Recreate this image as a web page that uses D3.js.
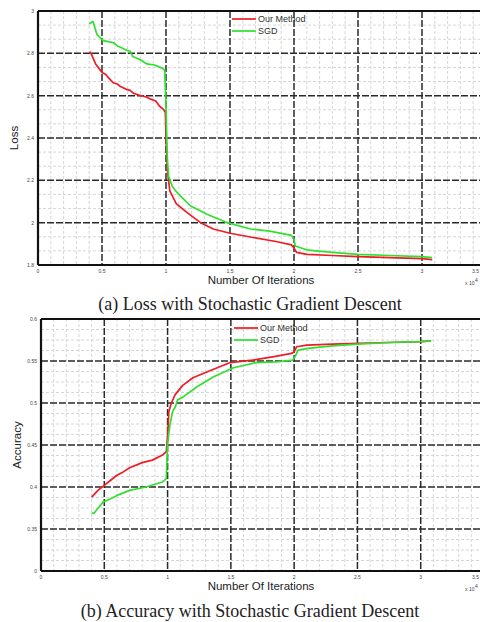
<!DOCTYPE html>
<html>
<head>
<meta charset="utf-8">
<script src="https://cdnjs.cloudflare.com/ajax/libs/d3/7.8.5/d3.min.js"></script>
<style>
  body { margin: 0; background: #fff; }
  svg { display: block; }
  .tick-label { font-family: "Liberation Sans", Arial, sans-serif; font-size: 5px; fill: #444; }
  .axis-label { font-family: "Liberation Sans", Arial, sans-serif; font-size: 11.5px; fill: #222; }
  .legend-text { font-family: "Liberation Sans", Arial, sans-serif; font-size: 9px; fill: #333; }
  .caption { font-family: "Liberation Serif", "Times New Roman", serif; font-size: 18px; fill: #222; }
</style>
</head>
<body>
<svg id="chart" width="480" height="622"></svg>
<script>
// x values are in units of 10^4 iterations
var xTicks = [0, 0.5, 1, 1.5, 2, 2.5, 3, 3.5];
var xTickLabels = ["0", "0.5", "1", "1.5", "2", "2.5", "3", "3.5"];

var lossTicks = [1.8, 2, 2.2, 2.4, 2.6, 2.8, 3];
var lossTickLabels = ["1.8", "2", "2.2", "2.4", "2.6", "2.8", "3"];
var accTicks = [0.3, 0.35, 0.4, 0.45, 0.5, 0.55, 0.6];
var accTickLabels = ["0", "0.35", "0.4", "0.45", "0.5", "0.55", "0.6"];

var seriesNames = ["Our Method", "SGD"];
var seriesColors = ["#ee1c25", "#2fe02f"];

// (a) loss
var lossOursX = [0.40, 0.41, 0.45, 0.50, 0.53, 0.55, 0.59, 0.62, 0.64, 0.69, 0.72, 0.75, 0.80, 0.84, 0.875, 0.92, 0.95, 0.98, 0.995, 1.0, 1.01, 1.03, 1.08, 1.16, 1.27, 1.37, 1.50, 1.68, 1.87, 1.98, 2.0, 2.02, 2.1, 2.3, 2.5, 2.75, 3.0, 3.08];
var lossOursY = [2.80, 2.806, 2.75, 2.71, 2.70, 2.685, 2.66, 2.655, 2.645, 2.63, 2.625, 2.61, 2.60, 2.595, 2.585, 2.575, 2.55, 2.535, 2.52, 2.40, 2.25, 2.15, 2.09, 2.05, 2.00, 1.97, 1.95, 1.93, 1.91, 1.895, 1.88, 1.86, 1.85, 1.845, 1.84, 1.835, 1.83, 1.825];
var lossSgdX = [0.40, 0.43, 0.46, 0.51, 0.55, 0.59, 0.62, 0.64, 0.69, 0.72, 0.74, 0.80, 0.85, 0.91, 0.97, 0.99, 1.0, 1.01, 1.02, 1.05, 1.09, 1.19, 1.32, 1.48, 1.66, 1.81, 1.98, 2.0, 2.01, 2.11, 2.3, 2.5, 2.75, 3.0, 3.08];
var lossSgdY = [2.94, 2.95, 2.89, 2.86, 2.855, 2.85, 2.835, 2.83, 2.815, 2.81, 2.785, 2.77, 2.75, 2.745, 2.73, 2.72, 2.55, 2.31, 2.22, 2.17, 2.14, 2.08, 2.04, 2.00, 1.97, 1.96, 1.94, 1.92, 1.89, 1.87, 1.86, 1.85, 1.845, 1.84, 1.835];

// (b) accuracy
var accOursX = [0.40, 0.45, 0.50, 0.55, 0.60, 0.65, 0.70, 0.80, 0.88, 0.96, 0.99, 1.0, 1.01, 1.03, 1.06, 1.12, 1.20, 1.33, 1.49, 1.67, 1.83, 1.98, 2.0, 2.02, 2.1, 2.3, 2.5, 2.75, 3.0, 3.08];
var accOursY = [0.388, 0.396, 0.402, 0.408, 0.414, 0.418, 0.423, 0.429, 0.432, 0.438, 0.442, 0.46, 0.49, 0.50, 0.51, 0.521, 0.53, 0.538, 0.548, 0.551, 0.555, 0.559, 0.561, 0.567, 0.569, 0.570, 0.571, 0.572, 0.573, 0.574];
var accSgdX = [0.40, 0.42, 0.44, 0.49, 0.55, 0.60, 0.70, 0.83, 0.96, 0.99, 1.0, 1.02, 1.04, 1.06, 1.08, 1.12, 1.23, 1.36, 1.52, 1.70, 1.86, 1.99, 2.01, 2.03, 2.11, 2.3, 2.5, 2.75, 3.0, 3.08];
var accSgdY = [0.369, 0.369, 0.373, 0.382, 0.386, 0.39, 0.396, 0.40, 0.406, 0.41, 0.452, 0.475, 0.49, 0.495, 0.504, 0.507, 0.519, 0.531, 0.542, 0.548, 0.549, 0.551, 0.556, 0.563, 0.565, 0.568, 0.570, 0.572, 0.573, 0.574];

var svg = d3.select("#chart");

function zip(xs, ys) {
    return xs.map(function (x, i) { return [x, ys[i]]; });
}

/**
 * draws one MATLAB style panel
 * options: left, right, top, bottom, yDomain, yTicks, yTickLabels, yMinor,
 *          series, yLabel, caption, captionY, legendX, legendY
 */
function drawPanel(options) {
    var g = svg.append("g");

    var x = d3.scaleLinear().domain([0, 3.5]).range([options.left, options.right]);
    var y = d3.scaleLinear().domain(options.yDomain).range([options.bottom, options.top]);

    // minor grid
    var xMinor = d3.range(0, 35).map(function (i) { return i / 10; }).filter(function (v) { return Math.round(v * 10) % 5 !== 0; });
    var yStep = (options.yTicks[1] - options.yTicks[0]) / options.yMinor;
    var yMinorVals = [];
    for (var k = 0; k < options.yTicks.length - 1; k++) {
        for (var m = 1; m < options.yMinor; m++) yMinorVals.push(options.yTicks[k] + m * yStep);
    }

    g.selectAll("line.minor-x").data(xMinor).enter().append("line")
        .attr("class", "minor-x")
        .attr("x1", function (d) { return x(d); }).attr("x2", function (d) { return x(d); })
        .attr("y1", options.top).attr("y2", options.bottom)
        .attr("stroke", "#d6d6d6").attr("stroke-width", 1).attr("stroke-dasharray", "3,2");

    g.selectAll("line.minor-y").data(yMinorVals).enter().append("line")
        .attr("class", "minor-y")
        .attr("y1", function (d) { return y(d); }).attr("y2", function (d) { return y(d); })
        .attr("x1", options.left).attr("x2", options.right)
        .attr("stroke", "#d6d6d6").attr("stroke-width", 1).attr("stroke-dasharray", "3,2");

    // major grid
    g.selectAll("line.major-x").data(xTicks.slice(1)).enter().append("line")
        .attr("class", "major-x")
        .attr("x1", function (d) { return x(d); }).attr("x2", function (d) { return x(d); })
        .attr("y1", options.top).attr("y2", options.bottom)
        .attr("stroke", "#2a2a2a").attr("stroke-width", 1.5).attr("stroke-dasharray", "7,2");

    g.selectAll("line.major-y").data(options.yTicks.slice(1, -1)).enter().append("line")
        .attr("class", "major-y")
        .attr("y1", function (d) { return y(d); }).attr("y2", function (d) { return y(d); })
        .attr("x1", options.left).attr("x2", options.right)
        .attr("stroke", "#2a2a2a").attr("stroke-width", 1.5).attr("stroke-dasharray", "7,2");

    // series
    var line = d3.line().x(function (d) { return x(d[0]); }).y(function (d) { return y(d[1]); });
    options.series.forEach(function (s, i) {
        g.append("path")
            .attr("d", line(s))
            .attr("fill", "none")
            .attr("stroke", seriesColors[i])
            .attr("stroke-width", 1.7)
            .attr("stroke-linejoin", "round");
    });

    // box
    g.append("line").attr("x1", options.left).attr("x2", options.right)
        .attr("y1", options.top).attr("y2", options.top)
        .attr("stroke", "#111").attr("stroke-width", 2);
    g.append("line").attr("x1", options.left).attr("x2", options.right)
        .attr("y1", options.bottom).attr("y2", options.bottom)
        .attr("stroke", "#111").attr("stroke-width", 2.2);
    g.append("line").attr("x1", options.left).attr("x2", options.left)
        .attr("y1", options.top).attr("y2", options.bottom)
        .attr("stroke", "#111").attr("stroke-width", 2.2);

    // tick labels (the last one sits at the picture's edge)
    g.selectAll("text.xt").data(xTicks).enter().append("text")
        .attr("class", "tick-label")
        .attr("x", function (d) { return Math.min(x(d), 479); })
        .attr("y", options.bottom + 7.5)
        .attr("text-anchor", function (d) { return x(d) > 476 ? "end" : "middle"; })
        .text(function (d, i) { return xTickLabels[i]; });

    g.selectAll("text.yt").data(options.yTicks).enter().append("text")
        .attr("class", "tick-label")
        .attr("x", options.left - 4)
        .attr("y", function (d) { return y(d) + 2; })
        .attr("text-anchor", "end")
        .text(function (d, i) { return options.yTickLabels[i]; });

    // axis labels
    g.append("text").attr("class", "axis-label")
        .attr("x", 261).attr("y", options.bottom + 19)
        .attr("text-anchor", "middle")
        .text("Number Of Iterations");

    g.append("text").attr("class", "tick-label")
        .attr("x", 465).attr("y", options.bottom + 20)
        .text("x 10");
    g.append("text").attr("class", "tick-label")
        .attr("x", 475).attr("y", options.bottom + 17)
        .text("4");

    g.append("text").attr("class", "axis-label")
        .attr("transform", "translate(" + (options.left - 20) + "," + ((options.top + options.bottom) / 2) + ") rotate(-90)")
        .attr("text-anchor", "middle")
        .text(options.yLabel);

    // legend
    var lg = g.append("g").attr("transform", "translate(" + options.legendX + "," + options.legendY + ")");
    seriesNames.forEach(function (name, i) {
        lg.append("line")
            .attr("x1", 0).attr("x2", 24)
            .attr("y1", i * 12).attr("y2", i * 12)
            .attr("stroke", seriesColors[i]).attr("stroke-width", 1.7);
        lg.append("text").attr("class", "legend-text")
            .attr("x", 26).attr("y", i * 12 + 3)
            .text(name);
    });

    // caption
    g.append("text").attr("class", "caption")
        .attr("x", 250).attr("y", options.captionY)
        .attr("text-anchor", "middle")
        .text(options.caption);
}

drawPanel({
    left: 38, right: 486, top: 11, bottom: 265,
    yDomain: [1.8, 3], yTicks: lossTicks, yTickLabels: lossTickLabels, yMinor: 3,
    series: [zip(lossOursX, lossOursY), zip(lossSgdX, lossSgdY)],
    yLabel: "Loss",
    caption: "(a) Loss with Stochastic Gradient Descent",
    captionY: 310,
    legendX: 232, legendY: 19
});

drawPanel({
    left: 41, right: 484, top: 319, bottom: 571,
    yDomain: [0.3, 0.6], yTicks: accTicks, yTickLabels: accTickLabels, yMinor: 4,
    series: [zip(accOursX, accOursY), zip(accSgdX, accSgdY)],
    yLabel: "Accuracy",
    caption: "(b) Accuracy with Stochastic Gradient Descent",
    captionY: 617,
    legendX: 234, legendY: 328
});
</script>
</body>
</html>
